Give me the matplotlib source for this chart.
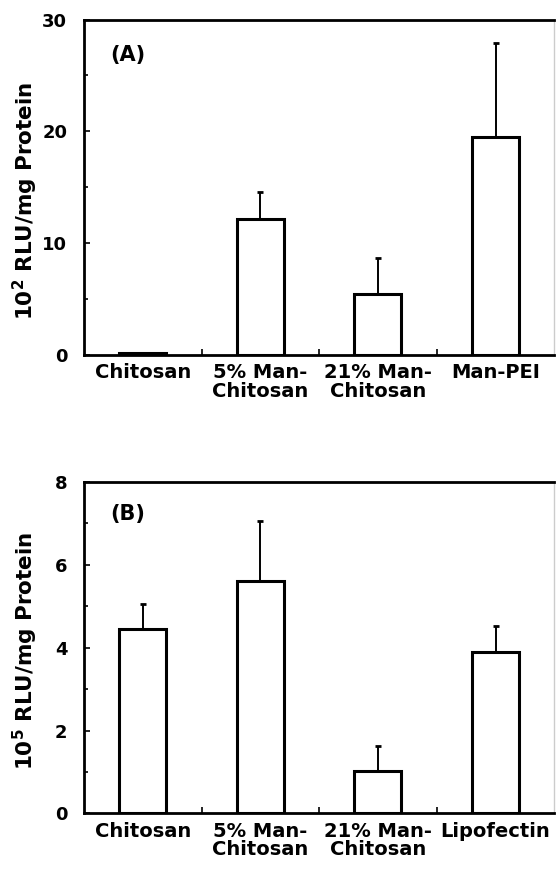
import matplotlib
matplotlib.use('Agg')
import matplotlib.pyplot as plt
import numpy as np

plt.rcParams['font.family'] = ['DejaVu Sans']
plt.rcParams['font.weight'] = 'bold'
plt.rcParams['mathtext.fontset'] = 'custom'
plt.rcParams['mathtext.rm'] = 'DejaVu Sans:bold'
plt.rcParams['mathtext.bf'] = 'DejaVu Sans:bold'

# panel A
labels_a = ['Chitosan', '5% Man-\nChitosan', '21% Man-\nChitosan', 'Man-PEI']
mean_a = np.array([0.2, 12.2, 5.45, 19.45])
upper_a = np.array([0.2, 14.55, 8.65, 27.9])

# panel B
labels_b = ['Chitosan', '5% Man-\nChitosan', '21% Man-\nChitosan', 'Lipofectin']
mean_b = np.array([4.45, 5.62, 1.02, 3.9])
upper_b = np.array([5.05, 7.05, 1.64, 4.52])


def panel(ax, labels, mean, upper, ymax, yticks, minor, ylabel, tag, label_y, tag_y):
    x = np.arange(len(labels))
    ax.errorbar(x, mean, yerr=[np.zeros_like(mean), upper - mean], fmt='none',
                ecolor='black', elinewidth=1.4, capsize=2.5, capthick=2, zorder=1)
    ax.bar(x, mean, width=0.4, color='white', edgecolor='black', linewidth=2.2, zorder=2)

    ax.set_xlim(-0.5, 3.5)
    ax.set_ylim(0, ymax)
    ax.set_yticks(yticks)
    ax.set_yticks(minor, minor=True)
    ax.set_xticks(x)
    ax.set_xticklabels(labels)
    ax.set_xticks([0.5, 1.5, 2.5], minor=True)

    ax.tick_params(axis='y', which='major', direction='in', length=4, width=1.2,
                   labelsize=13, pad=12)
    ax.tick_params(axis='y', which='minor', direction='in', length=3, width=1.2)
    ax.tick_params(axis='x', which='major', length=0, labelsize=14, pad=6)
    ax.tick_params(axis='x', which='minor', direction='in', length=4, width=1.2)
    for t in ax.get_xticklabels() + ax.get_yticklabels():
        t.set_fontweight('bold')
    for t in ax.get_xticklabels():
        t.set_linespacing(0.95)

    for s in ['left', 'bottom', 'top']:
        ax.spines[s].set_linewidth(2)
    ax.spines['right'].set_linewidth(1)
    ax.spines['right'].set_color('#cccccc')

    ax.set_ylabel(ylabel, fontsize=15.5, fontweight='bold')
    ax.yaxis.set_label_coords(-0.093, label_y)
    ax.text(0.055, tag_y, tag, transform=ax.transAxes, fontsize=15, fontweight='bold')


fig = plt.figure(figsize=(5.56, 8.75), dpi=100)
ax1 = fig.add_axes([0.151, 0.5943, 0.846, 0.3834])
ax2 = fig.add_axes([0.151, 0.0703, 0.846, 0.3788])

panel(ax1, labels_a, mean_a, upper_a, 30, [0, 10, 20, 30], [5, 15, 25],
      r'10$^{\mathbf{2}}$ RLU/mg Protein', '(A)', 0.46, 0.875)
panel(ax2, labels_b, mean_b, upper_b, 8, [0, 2, 4, 6, 8], [1, 3, 5, 7],
      r'10$^{\mathbf{5}}$ RLU/mg Protein', '(B)', 0.49, 0.885)

plt.savefig('out.png', dpi=100)
